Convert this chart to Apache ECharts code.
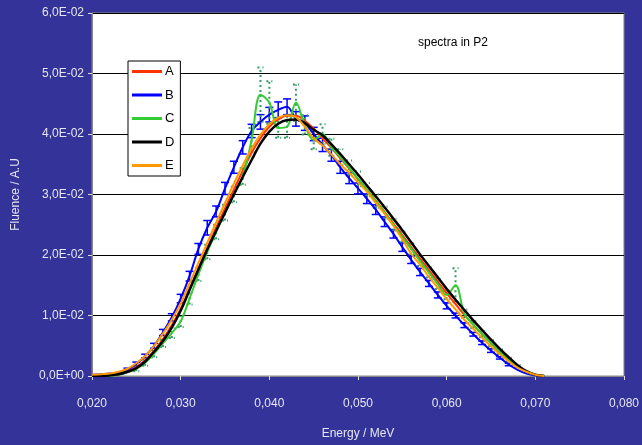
<!DOCTYPE html>
<html>
<head>
<meta charset="utf-8">
<script src="https://cdn.jsdelivr.net/npm/echarts@6/dist/echarts.min.js"></script>
<style>
html,body{margin:0;padding:0;background:#333399;}
#c{width:642px;height:445px;}
</style>
</head>
<body>
<div id="c"></div>
<script>
const energy = [0.020,0.021,0.022,0.023,0.024,0.025,0.026,0.027,0.028,0.029,
  0.030,0.031,0.032,0.033,0.034,0.035,0.036,0.037,0.038,0.039,
  0.040,0.041,0.042,0.043,0.044,0.045,0.046,0.047,0.048,0.049,
  0.050,0.051,0.052,0.053,0.054,0.055,0.056,0.057,0.058,0.059,
  0.060,0.061,0.062,0.063,0.064,0.065,0.066,0.067,0.068,0.069,
  0.070,0.071];
const seriesA = [0,0,0.0001,0.0003,0.0008,0.0015,0.0026,0.0042,0.0061,0.0084,
  0.0111,0.0144,0.0178,0.0212,0.0245,0.0277,0.0308,0.0339,0.0369,0.0393,
  0.0412,0.0424,0.0430,0.0430,0.0422,0.0409,0.0393,0.0377,0.0360,0.0343,
  0.0326,0.0308,0.0290,0.0271,0.0252,0.0233,0.0213,0.0194,0.0175,0.0156,
  0.0137,0.0119,0.0101,0.0085,0.0069,0.0054,0.0040,0.0027,0.0016,0.0007,
  0.0002,0];
const seriesB = [0.0002,0.0003,0.0004,0.0006,0.0011,0.0020,0.0033,0.0050,0.0072,0.0097,
  0.0128,0.0165,0.0210,0.0245,0.0272,0.0310,0.0345,0.0378,0.0405,0.0420,
  0.0432,0.0440,0.0445,0.0425,0.0418,0.0400,0.0382,0.0365,0.0345,0.0327,
  0.0310,0.0293,0.0275,0.0255,0.0235,0.0213,0.0192,0.0172,0.0153,0.0134,
  0.0116,0.0100,0.0084,0.0069,0.0055,0.0042,0.0030,0.0019,0.0010,0.0004,
  0.0001,0];
const seriesC = [0,0,0,0.0002,0.0006,0.0012,0.0022,0.0037,0.0054,0.0071,
  0.0090,0.0128,0.0168,0.0205,0.0238,0.0270,0.0300,0.0330,0.0390,0.0465,
  0.0452,0.0410,0.0412,0.0452,0.0415,0.0390,0.0400,0.0378,0.0362,0.0344,
  0.0326,0.0308,0.0289,0.0270,0.0250,0.0230,0.0210,0.0190,0.0171,0.0152,
  0.0134,0.0150,0.0103,0.0085,0.0069,0.0054,0.0040,0.0027,0.0016,0.0007,
  0.0002,0];
const seriesD = [0,0,0.0001,0.0003,0.0007,0.0013,0.0024,0.0040,0.0058,0.0080,
  0.0108,0.0142,0.0176,0.0209,0.0240,0.0270,0.0300,0.0329,0.0357,0.0384,
  0.0404,0.0417,0.0423,0.0424,0.0418,0.0407,0.0398,0.0383,0.0367,0.0350,
  0.0333,0.0315,0.0297,0.0279,0.0260,0.0241,0.0221,0.0201,0.0182,0.0163,
  0.0144,0.0126,0.0109,0.0092,0.0076,0.0060,0.0045,0.0031,0.0018,0.0008,
  0.0002,0];
const seriesE = [0.0002,0.0003,0.0004,0.0007,0.0012,0.0021,0.0033,0.0050,0.0070,0.0093,
  0.0120,0.0153,0.0187,0.0220,0.0254,0.0286,0.0318,0.0348,0.0376,0.0399,
  0.0416,0.0427,0.0431,0.0428,0.0412,0.0393,0.0381,0.0366,0.0350,0.0336,
  0.0320,0.0305,0.0286,0.0268,0.0248,0.0226,0.0202,0.0184,0.0164,0.0146,
  0.0127,0.0110,0.0093,0.0078,0.0063,0.0049,0.0036,0.0024,0.0014,0.0007,
  0.0002,0];
const errB = [0,0,0,0,0.0002,0.0003,0.0003,0.0004,0.0005,0.0006,
  0.0007,0.0008,0.0009,0.0012,0.0009,0.0010,0.0010,0.0011,0.0011,0.0012,
  0.0012,0.0013,0.0013,0.0012,0.0012,0.0011,0.0011,0.0010,0.0010,0.0009,
  0.0009,0.0008,0.0008,0.0008,0.0007,0.0007,0.0006,0.0006,0.0005,0.0005,
  0.0005,0.0004,0.0004,0.0003,0.0003,0.0003,0.0002,0.0002,0,0,
  0,0];
const errC = [0,0,0,0,0,0.0004,0.0005,0.0006,0.0006,0.0008,
  0.0009,0.0010,0.0011,0.0012,0.0012,0.0013,0.0013,0.0014,0.0020,0.0045,
  0.0035,0.0016,0.0018,0.0030,0.0016,0.0015,0.0016,0.0014,0.0013,0.0012,
  0.0012,0.0011,0.0011,0.0010,0.0010,0.0009,0.0009,0.0008,0.0008,0.0008,
  0.0007,0.0028,0.0007,0.0006,0.0005,0.0005,0.0004,0.0003,0.0002,0,
  0,0];
const xTicks = ['0,020','0,030','0,040','0,050','0,060','0,070','0,080'];
const yTicks = ['0,0E+00','1,0E-02','2,0E-02','3,0E-02','4,0E-02','5,0E-02','6,0E-02'];

const names = ['A','B','C','D','E'];
const colors = ['#ff3300','#0000ff','#33cc33','#000000','#ff9900'];
const vals = [seriesA, seriesB, seriesC, seriesD, seriesE];

function pairs(arr){ return energy.map((x,i)=>[x, arr[i]]); }
function errData(arr, err){
  const out=[];
  energy.forEach((x,i)=>{ if(err[i]>0) out.push([x, arr[i]-err[i], arr[i]+err[i]]); });
  return out;
}
function errRender(capW, style){
  return function(params, api){
    const x=api.value(0), lo=api.value(1), hi=api.value(2);
    const p1=api.coord([x,lo]), p2=api.coord([x,hi]);
    return {type:'group', children:[
      {type:'line', shape:{x1:p1[0],y1:p1[1],x2:p2[0],y2:p2[1]}, style:style},
      {type:'line', shape:{x1:p1[0]-capW,y1:p1[1],x2:p1[0]+capW,y2:p1[1]}, style:style},
      {type:'line', shape:{x1:p2[0]-capW,y1:p2[1],x2:p2[0]+capW,y2:p2[1]}, style:style}
    ]};
  };
}

const font = '"Liberation Sans", Arial, sans-serif';
const labCol = '#e6e6f2';
const series = [];
series.push({type:'custom', name:'errB', renderItem: errRender(4, {stroke:'#0000ff', lineWidth:1.5}),
  data: errData(seriesB, errB), encode:{x:0,y:[1,2]}, z:2, silent:true});
series.push({type:'custom', name:'errC', renderItem: errRender(3, {stroke:'#339966', lineWidth:2, lineDash:[2,3]}),
  data: errData(seriesC, errC), encode:{x:0,y:[1,2]}, z:2, silent:true});
names.forEach((n,i)=>{
  series.push({type:'line', name:n, data:pairs(vals[i]), smooth:0.35, showSymbol:false,
    lineStyle:{color:colors[i], width: i===3?2.5:2}, itemStyle:{color:colors[i]}, z:3+i});
});

const chart = echarts.init(document.getElementById('c'), null, {renderer:'canvas'});
chart.setOption({
  backgroundColor:'#333399',
  animation:false,
  textStyle:{fontFamily:font},
  grid:{left:92, right:16, top:13, bottom:67, show:true, backgroundColor:'#ffffff', borderColor:'#888888', borderWidth:1},
  legend:{
    data:names, orient:'vertical', left:128, top:61,
    icon:'rect', itemWidth:30, itemHeight:3, itemGap:10.5,
    padding:[4,6,4,4], backgroundColor:'#ffffff', borderColor:'#000000', borderWidth:1, borderRadius:0,
    textStyle:{color:'#000000', fontSize:13, fontFamily:font, padding:[0,0,0,-2]}
  },
  graphic:[{type:'text', left:418, top:37, style:{text:'spectra in P2', fill:'#000000', font:'12px '+font}}],
  xAxis:{
    type:'value', min:0.020, max:0.080, interval:0.010,
    name:'Energy / MeV', nameLocation:'middle', nameGap:52,
    nameTextStyle:{color:labCol, fontSize:12, fontFamily:font},
    axisLine:{show:true, lineStyle:{color:'#888888'}},
    axisTick:{show:true, length:4, lineStyle:{color:'#dddddd'}},
    axisLabel:{color:labCol, fontSize:12, margin:22, formatter:(v)=>{const i=Math.round((v-0.020)/0.010); return xTicks[i]||'';}},
    splitLine:{show:false}
  },
  yAxis:{
    type:'value', min:0, max:0.06, interval:0.01,
    name:'Fluence / A.U', nameLocation:'middle', nameGap:70, nameRotate:90,
    nameTextStyle:{color:labCol, fontSize:12, fontFamily:font},
    axisLine:{show:true, lineStyle:{color:'#888888'}},
    axisTick:{show:true, length:4, lineStyle:{color:'#dddddd'}},
    axisLabel:{color:labCol, fontSize:12, margin:8, formatter:(v)=>{const i=Math.round(v/0.01); return yTicks[i]||'';}},
    splitLine:{show:true, lineStyle:{color:'#000000', width:1}}
  },
  series:series
});
</script>
</body>
</html>
